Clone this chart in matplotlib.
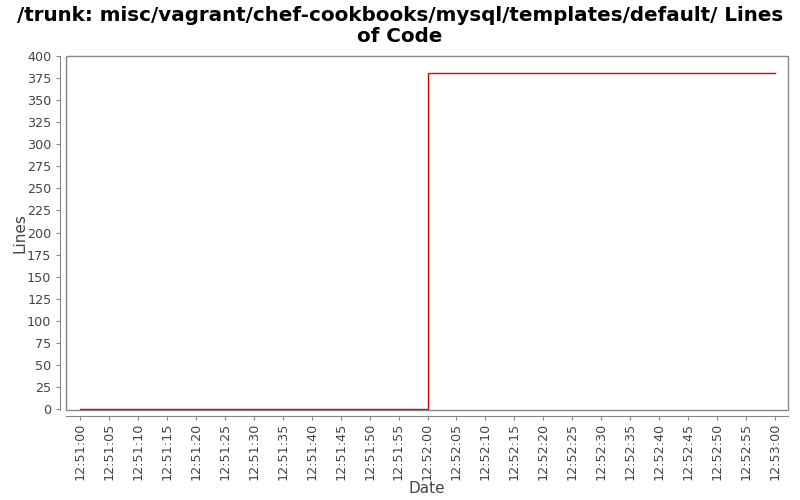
import datetime as dt
import matplotlib
matplotlib.use("Agg")
import matplotlib.pyplot as plt
import matplotlib.dates as mdates
from matplotlib.patches import Rectangle

# data
times = ["12:51:00", "12:52:00", "12:53:00"]
lines = [0, 381, 381]

base = dt.date(2010, 1, 1)
t = [dt.datetime.combine(base, dt.datetime.strptime(s, "%H:%M:%S").time()) for s in times]

fig = plt.figure(figsize=(8, 5), dpi=100)
ax = fig.add_axes([66 / 800, 1 - 410 / 500, (788 - 66) / 800, (410 - 56) / 500])

ax.plot(t, lines, drawstyle="steps-post", color="#dd0000", lw=1)

x0 = t[0] - dt.timedelta(seconds=2.42)
x1 = t[-1] + dt.timedelta(seconds=2.24)
ax.set_xlim(x0, x1)
ax.set_ylim(-1.1, 400)

ax.set_yticks(range(0, 401, 25))
ax.xaxis.set_major_locator(mdates.SecondLocator(bysecond=range(0, 60, 5)))
ax.xaxis.set_major_formatter(mdates.DateFormatter("%H:%M:%S"))
ax.tick_params(axis="x", labelrotation=90)

for s in ["top", "right"]:
    ax.spines[s].set_visible(False)
for s in ["left", "bottom"]:
    ax.spines[s].set_position(("outward", 4))
    ax.spines[s].set_color("#888888")
ax.add_patch(Rectangle((0, 0), 1, 1, transform=ax.transAxes, fill=False,
                       edgecolor="#888888", lw=1, clip_on=False))
ax.tick_params(colors="#888888", labelcolor="#444444", labelsize=9.2, length=3)
ax.tick_params(axis="x", pad=2)

ax.set_xlabel("Date", fontsize=11, color="#444444", labelpad=1)
ax.set_ylabel("Lines", fontsize=11, color="#444444", labelpad=0)
fig.suptitle("/trunk: misc/vagrant/chef-cookbooks/mysql/templates/default/ Lines\nof Code",
             fontsize=14.3, fontweight="bold", y=0.988, linespacing=1.12)

fig.savefig("out.png", dpi=100)
